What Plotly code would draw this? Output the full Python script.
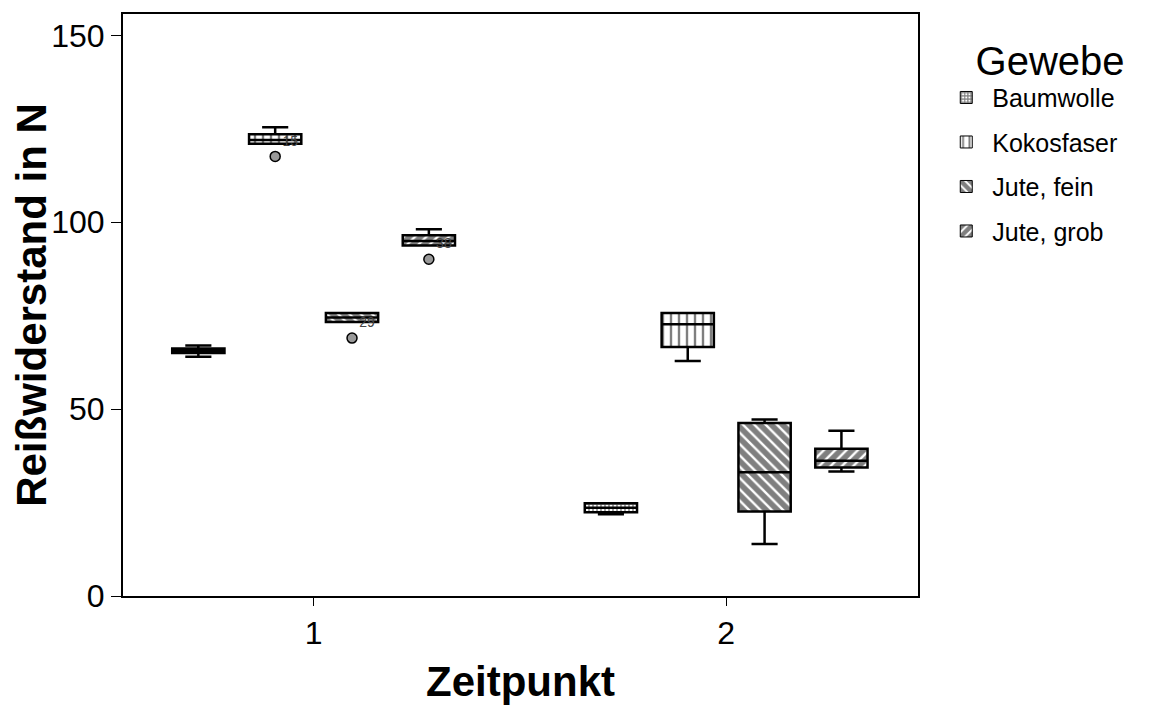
import plotly.graph_objects as go

# ---------- data ----------
zeitpunkt = ["1", "2"]
gewebe = ["Baumwolle", "Kokosfaser", "Jute, fein", "Jute, grob"]

lower = {
    "Baumwolle": [64.0, 21.9],
    "Kokosfaser": [121.0, 62.9],
    "Jute, fein": [73.3, 13.9],
    "Jute, grob": [93.8, 33.3],
}
q1 = {
    "Baumwolle": [65.0, 22.4],
    "Kokosfaser": [121.0, 66.6],
    "Jute, fein": [73.3, 22.6],
    "Jute, grob": [93.8, 34.4],
}
median = {
    "Baumwolle": [65.6, 23.6],
    "Kokosfaser": [122.0, 72.7],
    "Jute, fein": [74.5, 33.1],
    "Jute, grob": [95.0, 36.2],
}
q3 = {
    "Baumwolle": [66.2, 24.8],
    "Kokosfaser": [123.5, 75.7],
    "Jute, fein": [75.7, 46.3],
    "Jute, grob": [96.5, 39.4],
}
upper = {
    "Baumwolle": [67.0, 24.8],
    "Kokosfaser": [125.4, 75.7],
    "Jute, fein": [75.7, 47.2],
    "Jute, grob": [98.1, 44.2],
}

# outliers (only at Zeitpunkt 1), with SPSS case labels
outlier_y = {"Baumwolle": [None], "Kokosfaser": [117.6], "Jute, fein": [69.0], "Jute, grob": [90.1]}
outlier_lbl = {"Baumwolle": [""], "Kokosfaser": ["15"], "Jute, fein": ["29"], "Jute, grob": ["38"]}

patterns = {
    "Baumwolle": dict(shape="+", size=4, solidity=0.6),
    "Kokosfaser": dict(shape="|", size=8, solidity=0.3),
    "Jute, fein": dict(shape="\\", size=8, solidity=0.7),
    "Jute, grob": dict(shape="/", size=8, solidity=0.7),
}

fig = go.Figure()

# patterned IQR bodies (bars sit below the box layer)
for g in gewebe:
    fig.add_trace(go.Bar(
        x=zeitpunkt,
        y=[b - a for a, b in zip(q1[g], q3[g])],
        base=q1[g],
        name=g,
        legendgroup=g,
        marker=dict(color="white", line=dict(color="black", width=1),
                    pattern=dict(fgcolor="black", bgcolor="white", **patterns[g])),
        hoverinfo="skip",
    ))

# box outlines, medians, whiskers
for g in gewebe:
    fig.add_trace(go.Box(
        x=zeitpunkt,
        q1=q1[g], median=median[g], q3=q3[g],
        lowerfence=lower[g], upperfence=upper[g],
        name=g,
        legendgroup=g,
        showlegend=False,
        fillcolor="rgba(0,0,0,0)",
        line=dict(color="black", width=2.5),
        whiskerwidth=0.5,
    ))

# outliers
for g in gewebe:
    fig.add_trace(go.Scatter(
        x=["1"],
        y=outlier_y[g],
        text=outlier_lbl[g],
        mode="markers+text",
        textposition="top right",
        textfont=dict(size=14, color="#444"),
        marker=dict(size=10, color="#999", line=dict(color="black", width=1.5)),
        name=g,
        legendgroup=g,
        showlegend=False,
    ))

# page body adds an 8px offset, so the figure is a bit smaller than the window
fig.update_layout(
    width=1153, height=701,
    margin=dict(l=114, r=243, t=4, b=113),
    paper_bgcolor="white", plot_bgcolor="white",
    font=dict(family="Liberation Sans, Arial, sans-serif", color="black"),
    barmode="group", bargap=0.255, bargroupgap=0.32,
    boxmode="group", boxgap=0.255, boxgroupgap=0.32,
    scattermode="group", scattergap=0.255,
    legend=dict(
        title=dict(text="   Gewebe", font=dict(size=40)),
        font=dict(size=25),
        x=1.028, y=0.985, xanchor="left", yanchor="top",
        itemwidth=42,
        tracegroupgap=9,
    ),
)

fig.update_xaxes(
    type="category", range=[-0.462, 1.465],
    showline=True, mirror=True, linecolor="black", linewidth=2,
    ticks="outside", ticklen=8, tickcolor="black",
    tickfont=dict(size=32),
    showgrid=False, zeroline=False,
    title=dict(text="<b>Zeitpunkt</b>", font=dict(size=42), standoff=16),
)
fig.update_yaxes(
    range=[0, 155.7], tickvals=[0, 50, 100, 150],
    showline=True, mirror=True, linecolor="black", linewidth=2,
    ticks="outside", ticklen=10, tickcolor="black",
    tickfont=dict(size=32),
    showgrid=False, zeroline=False,
    title=dict(text="<b>Reißwiderstand in N</b>", font=dict(size=42), standoff=10),
)

fig.write_html("out.html")
